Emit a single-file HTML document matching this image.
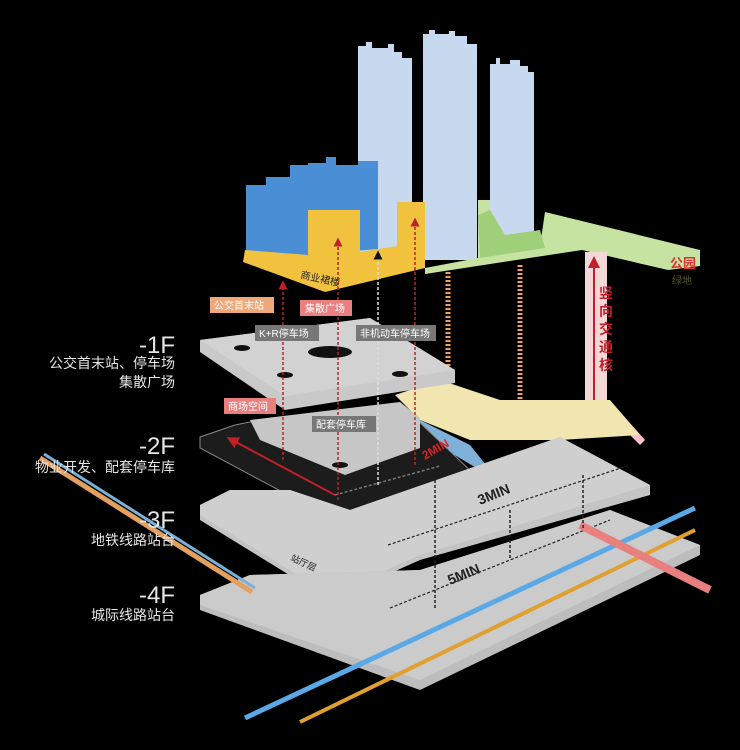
<!DOCTYPE html>
<html><head><meta charset="utf-8"><style>
html,body{margin:0;padding:0;background:#000;}
svg{display:block}
text{font-family:"Liberation Sans","Noto Sans CJK SC",sans-serif;}
</style></head><body>
<svg width="740" height="750" viewBox="0 0 740 750" xmlns="http://www.w3.org/2000/svg">
<rect width="740" height="750" fill="#000"/>
<defs>
<marker id="ar" markerWidth="6" markerHeight="6" refX="3" refY="3" orient="auto"><path d="M0,0 L6,3 L0,6z" fill="#c0202a"/></marker>
<marker id="ak" markerWidth="6" markerHeight="6" refX="3" refY="3" orient="auto"><path d="M0,0 L6,3 L0,6z" fill="#111"/></marker>
</defs>
<!-- towers -->
<path d="M358,260 V46 h8 v-4 h6 v6 h16 v-4 h6 v8 h8 v6 h10 V260z" fill="#c6d9ee"/>
<path d="M423,260 V34 h6 v-4 h6 v4 h14 v-3 h6 v5 h12 v8 h10 V260z" fill="#c6d9ee"/>
<path d="M490,250 V64 h6 v-6 h4 v6 h10 v-4 h10 v6 h8 v6 h6 V250z" fill="#c6d9ee"/>
<!-- blue podium -->
<path d="M246,260 V185 h20 v-8 h24 v-12 h18 v-2 h18 v-6 h10 v8 h22 v-4 h20 v88z" fill="#4a8fd6"/>
<!-- yellow podium -->
<path d="M243,262 L245,250 L308,255 V210 h52 v42 l37,-6 V202 h28 V268 L325,292z" fill="#f1c23e"/>
<text x="300" y="278" font-size="10" fill="#222" transform="rotate(12 300 278)">商业裙楼</text>
<!-- green park -->
<path d="M425,268 L478,258 V200 h12 v50 l50,-4 L545,212 L700,250 L700,266 L668,270 L582,250 L425,274z" fill="#c6e3a2"/>
<path d="M478,215 L490,210 L505,235 L540,230 L545,248 L480,258z" fill="#9fcf78"/>
<text x="670" y="268" font-size="13" fill="#d33" font-weight="bold">公园</text>
<text x="672" y="284" font-size="10" fill="#553">绿地</text>
<!-- columns -->
<g stroke="#f0a060" stroke-width="5" stroke-dasharray="2,2">
<line x1="448" y1="272" x2="448" y2="380"/><line x1="520" y1="265" x2="520" y2="400"/>
</g>
<rect x="585" y="252" width="22" height="160" fill="#f4d8d8"/>
<line x1="594" y1="405" x2="594" y2="262" stroke="#c0202a" stroke-width="2" marker-end="url(#ar)"/>
<text x="599" y="298" font-size="14" fill="#c0202a" font-weight="bold">竖</text>
<text x="599" y="316" font-size="14" fill="#c0202a" font-weight="bold">向</text>
<text x="599" y="334" font-size="14" fill="#c0202a" font-weight="bold">交</text>
<text x="599" y="352" font-size="14" fill="#c0202a" font-weight="bold">通</text>
<text x="599" y="370" font-size="14" fill="#c0202a" font-weight="bold">核</text>
<path d="M585,405 L620,412 L645,440 L640,445 L615,420 L590,415z" fill="#f7c0c8"/>
<!-- sunken garden -->
<path d="M395,395 L440,380 L500,400 L610,400 L640,435 L560,440 L470,440 L420,420z" fill="#f2e6b0"/>
<path d="M400,410 L470,445 L490,470 L480,470 L395,420z" fill="#7fb0d8"/>
<!-- -1F slab -->
<path d="M200,340 L370,318 L455,370 L455,383 L285,410 L200,352z" fill="#c9c9c9"/>
<path d="M200,340 L370,318 L455,370 L285,396z" fill="#d2d2d2"/>
<ellipse cx="242" cy="348" rx="8" ry="3" fill="#111"/><ellipse cx="330" cy="352" rx="22" ry="6" fill="#111"/>
<ellipse cx="285" cy="375" rx="8" ry="3" fill="#111"/><ellipse cx="400" cy="374" rx="8" ry="3" fill="#111"/>
<!-- -2F slab -->
<path d="M200,437 L235,425 L260,420 L415,418 L475,475 L335,520 L200,448z" fill="#1c1c1c" stroke="#888" stroke-width="1"/>
<path d="M250,420 L400,402 L420,418 L420,448 L345,475 L260,440z" fill="#c6c6c6"/>
<ellipse cx="340" cy="465" rx="8" ry="3" fill="#111"/>
<line x1="335" y1="495" x2="232" y2="440" stroke="#c0202a" stroke-width="2" marker-end="url(#ar)"/>
<line x1="335" y1="495" x2="440" y2="466" stroke="#777" stroke-width="1.5" stroke-dasharray="3,2"/>
<text x="425" y="460" font-size="12" fill="#d22" font-weight="bold" transform="rotate(-30 425 460)">2MIN</text>
<!-- -3F slab -->
<path d="M200,505 L230,490 L290,490 L350,510 L560,437 L650,485 L650,495 L420,560 L330,600 L200,520z" fill="#c4c4c4"/>
<path d="M200,505 L230,490 L290,490 L350,510 L560,437 L650,485 L420,555 L330,595 L200,515z" fill="#cfcfcf"/>
<text x="290" y="560" font-size="9" fill="#222" transform="rotate(25 290 560)">站厅层</text>
<text x="480" y="505" font-size="14" fill="#222" font-weight="bold" transform="rotate(-22 480 505)">3MIN</text>
<line x1="388" y1="545" x2="630" y2="465" stroke="#222" stroke-width="1.2" stroke-dasharray="3,2"/>
<!-- -4F slab -->
<path d="M200,595 L250,575 L420,570 L610,510 L700,545 L700,555 L420,690 L200,610z" fill="#bdbdbd"/>
<path d="M200,595 L250,575 L420,570 L610,510 L700,545 L420,680 L200,605z" fill="#cbcbcb"/>
<text x="450" y="585" font-size="14" fill="#222" font-weight="bold" transform="rotate(-22 450 585)">5MIN</text>
<line x1="390" y1="608" x2="610" y2="520" stroke="#222" stroke-width="1.2" stroke-dasharray="3,2"/>
<!-- rail lines -->
<path d="M245,718 L695,508" stroke="#5aa9e6" stroke-width="5"/>
<path d="M300,722 L695,530" stroke="#e0a030" stroke-width="4"/>
<path d="M580,525 L710,590" stroke="#e98080" stroke-width="8"/>
<path d="M40,458 L252,592" stroke="#e3a060" stroke-width="5"/>
<path d="M44,454 L255,588" stroke="#7ab0d8" stroke-width="3"/>
<!-- vertical arrows -->
<g stroke-width="1.5" stroke-dasharray="3,2" fill="none">
<line x1="283" y1="460" x2="283" y2="285" stroke="#c0202a" marker-end="url(#ar)"/>
<line x1="338" y1="500" x2="338" y2="242" stroke="#c0202a" marker-end="url(#ar)"/>
<line x1="415" y1="465" x2="415" y2="222" stroke="#c0202a" marker-end="url(#ar)"/>
<line x1="378" y1="485" x2="378" y2="255" stroke="#ddd" marker-end="url(#ak)"/>
<line x1="435" y1="480" x2="435" y2="610" stroke="#222"/>
<line x1="510" y1="510" x2="510" y2="560" stroke="#222"/>
<line x1="583" y1="475" x2="583" y2="530" stroke="#222"/>
</g>
<!-- callout labels -->
<g font-size="10" fill="#fff">
<rect x="210" y="297" width="64" height="16" fill="#f0a878"/><text x="214" y="309">公交首末站</text>
<rect x="300" y="300" width="52" height="16" fill="#e88080"/><text x="305" y="312">集散广场</text>
<rect x="255" y="325" width="64" height="16" fill="#777"/><text x="259" y="337">K+R停车场</text>
<rect x="356" y="325" width="80" height="16" fill="#777"/><text x="360" y="337">非机动车停车场</text>
<rect x="224" y="398" width="52" height="16" fill="#e88080"/><text x="228" y="410">商场空间</text>
<rect x="312" y="416" width="64" height="16" fill="#777"/><text x="316" y="428">配套停车库</text>
</g>
<!-- floor labels -->
<g fill="#e6e6e6" text-anchor="end">
<text x="175" y="353" font-size="24">-1F</text>
<text x="175" y="368" font-size="14">公交首末站、停车场</text>
<text x="175" y="387" font-size="14">集散广场</text>
<text x="175" y="454" font-size="24">-2F</text>
<text x="175" y="472" font-size="14">物业开发、配套停车库</text>
<text x="175" y="528" font-size="24">-3F</text>
<text x="175" y="545" font-size="14">地铁线路站台</text>
<text x="175" y="603" font-size="24">-4F</text>
<text x="175" y="620" font-size="14">城际线路站台</text>
</g>
</svg>
</body></html>
